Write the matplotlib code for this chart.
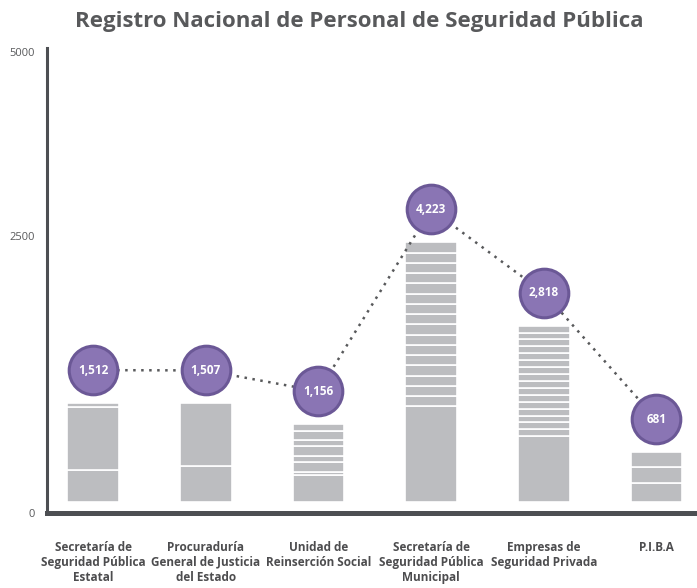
import numpy as np
import matplotlib
matplotlib.use("Agg")
import matplotlib.pyplot as plt
from matplotlib.transforms import ScaledTranslation

plt.rcParams['font.family'] = ['Open Sans', 'DejaVu Sans']

# data
categories = [
    "Secretaría de\nSeguridad Pública\nEstatal",
    "Procuraduría\nGeneral de Justicia\ndel Estado",
    "Unidad de\nReinserción Social",
    "Secretaría de\nSeguridad Pública\nMunicipal",
    "Empresas de\nSeguridad Privada",
    "P.I.B.A",
]
values = [1512, 1507, 1156, 4223, 2818, 681]
value_labels = ["1,512", "1,507", "1,156", "4,223", "2,818", "681"]
# relative size of the stacked blocks in each bar, bottom to top
segments = [
    [31, 60, 4],
    [34, 60],
    [26, 3, 9, 6, 9, 6, 9, 6],
    [84] + [9] * 16,
    [57] + [6] * 16,
    [19, 16, 14],
]
tick_values = [0, 2500, 5000]
tick_labels = ["0", "2500", "5000"]

# colours / style
GREY_TXT = '#58595b'
AXIS = '#4d4f53'
BAR = '#bcbdc0'
PURPLE = '#8a75b4'
PURPLE_EDGE = '#6b5896'
BASE = -155  # bars start a little below zero

fig = plt.figure(figsize=(6.97, 5.88), dpi=100)
ax = fig.add_axes([0.0674, 0.1276, 0.9326, 0.7908])

# the printed axis is not evenly spaced, so use a piecewise scale
yk = [-10000, 0, 2500, 5000, 20000]
pk = [-10000 * 277 / 2500, 0, 277, 461, 461 + 15000 * 184 / 2500]
fwd = lambda y: np.interp(y, yk, pk)
inv = lambda p: np.interp(p, pk, yk)
ax.set_yscale('function', functions=(fwd, inv))
ax.set_ylim(0, 5054)
ax.set_yticks(tick_values, tick_labels)
ax.tick_params(axis='y', length=0, pad=9, labelsize=8, labelcolor=GREY_TXT)

for s in ['top', 'right']:
    ax.spines[s].set_visible(False)
ax.spines['left'].set_color(AXIS)
ax.spines['left'].set_linewidth(2.2)
ax.spines['bottom'].set_color(AXIS)
ax.spines['bottom'].set_linewidth(3.6)

x = np.arange(len(categories))
ax.set_xlim(-0.41, 5.36)
ax.set_xticks(x, categories)
ax.tick_params(axis='x', length=0, pad=20, labelsize=8.5, labelcolor='#4d4d4f')
for t in ax.get_xticklabels():
    t.set_fontweight('bold')
    t.set_linespacing(1.2)

# data axis
ax2 = ax.twinx()
ax2.set_ylim(-340, 7500)
ax2.axis('off')

for i, (v, segs) in enumerate(zip(values, segments)):
    w = np.array(segs, dtype=float) / sum(segs) * (v - BASE)
    bottoms = BASE + np.concatenate([[0], np.cumsum(w)[:-1]])
    ax2.bar(np.full(len(w), i), w, bottom=bottoms, width=0.46, color=BAR,
            edgecolor='white', linewidth=1.2, zorder=2)

off = ax2.transData + ScaledTranslation(0, 0.33, fig.dpi_scale_trans)
ax2.plot(x, values, ls=(0, (1, 2.2)), lw=1.8, color=GREY_TXT, transform=off, zorder=3)
ax2.plot(x, values, 'o', ms=35, mfc=PURPLE, mec=PURPLE_EDGE, mew=2.2,
         transform=off, zorder=4, clip_on=False)
for i, (v, lab) in enumerate(zip(values, value_labels)):
    ax2.text(i, v, lab, transform=off, ha='center', va='center', color='white',
             fontsize=8.5, fontweight='bold', zorder=5)

fig.text(0.515, 0.963, "Registro Nacional de Personal de Seguridad Pública",
         ha='center', va='center', fontsize=16, fontweight='bold', color=GREY_TXT)

fig.savefig('out.png', dpi=100)
